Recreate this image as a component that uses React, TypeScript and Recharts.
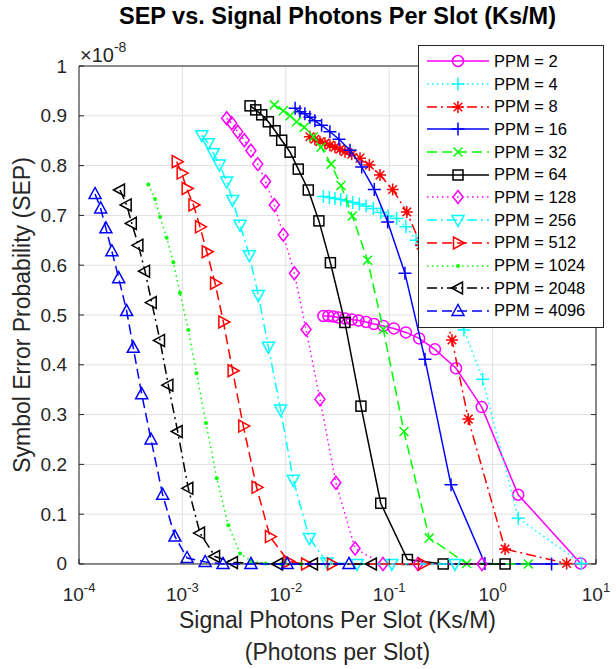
import React from 'react'
import { ScatterChart, Scatter, XAxis, YAxis, CartesianGrid, Legend } from 'recharts'

// SEP values are in units of 1e-8 (axis multiplier shown top-left)
const PPM2_X = [2.31e-2, 2.58e-2, 2.88e-2, 3.22e-2, 3.74e-2, 4.34e-2, 5.04e-2, 5.97e-2, 7.13e-2, 8.77e-2, 0.111, 0.145, 0.195, 0.277, 0.443, 0.785, 1.77, 7.11]
const PPM2_SEP = [0.498, 0.498, 0.497, 0.495, 0.493, 0.491, 0.489, 0.486, 0.482, 0.478, 0.473, 0.465, 0.453, 0.431, 0.393, 0.315, 0.139, 0.001]

const PPM4_X = [2.31e-2, 2.64e-2, 2.99e-2, 3.4e-2, 3.88e-2, 4.44e-2, 5.14e-2, 5.97e-2, 7.02e-2, 8.28e-2, 9.79e-2, 0.118, 0.145, 0.182, 0.259, 0.371, 0.528, 0.802, 1.77, 7.26]
const PPM4_SEP = [0.738, 0.736, 0.734, 0.732, 0.729, 0.726, 0.723, 0.719, 0.714, 0.706, 0.699, 0.694, 0.677, 0.65, 0.6, 0.53, 0.47, 0.371, 0.092, 0.001]

const PPM8_X = [1.71e-2, 1.91e-2, 2.14e-2, 2.39e-2, 2.67e-2, 2.99e-2, 3.34e-2, 3.74e-2, 4.34e-2, 5.22e-2, 6.43e-2, 8.15e-2, 0.108, 0.148, 0.203, 0.29, 0.405, 0.582, 1.32, 5.2]
const PPM8_SEP = [0.858, 0.853, 0.848, 0.845, 0.841, 0.837, 0.833, 0.828, 0.823, 0.815, 0.801, 0.781, 0.752, 0.707, 0.64, 0.56, 0.45, 0.291, 0.03, 0.001]

const PPM16_X = [1.23e-2, 1.37e-2, 1.53e-2, 1.71e-2, 1.91e-2, 2.22e-2, 2.67e-2, 3.27e-2, 4.18e-2, 5.42e-2, 7.18e-2, 9.66e-2, 0.142, 0.222, 0.396, 0.843, 3.72]
const PPM16_SEP = [0.915, 0.908, 0.904, 0.897, 0.89, 0.881, 0.868, 0.853, 0.831, 0.797, 0.752, 0.687, 0.584, 0.411, 0.159, 0.001, 0]

const PPM32_X = [7.74e-3, 9.46e-3, 1.1e-2, 1.27e-2, 1.51e-2, 1.85e-2, 2.19e-2, 2.74e-2, 3.42e-2, 4.4e-2, 6.18e-2, 8.77e-2, 0.139, 0.244, 0.561, 2.22]
const PPM32_SEP = [0.922, 0.91, 0.9, 0.888, 0.877, 0.858, 0.837, 0.803, 0.76, 0.699, 0.61, 0.471, 0.266, 0.052, 0.001, 0]

const PPM64_X = [4.51e-3, 5.12e-3, 5.85e-3, 6.78e-3, 7.87e-3, 9.12e-3, 1.1e-2, 1.32e-2, 1.65e-2, 2.09e-2, 2.7e-2, 3.73e-2, 5.33e-2, 8.28e-2, 0.15, 0.333, 1.32]
const PPM64_SEP = [0.92, 0.912, 0.902, 0.888, 0.87, 0.851, 0.827, 0.793, 0.751, 0.689, 0.605, 0.485, 0.317, 0.122, 0.009, 0, 0]

const PPM128_X = [2.68e-3, 3.0e-3, 3.43e-3, 3.97e-3, 4.6e-3, 5.35e-3, 6.38e-3, 7.74e-3, 9.46e-3, 1.21e-2, 1.57e-2, 2.14e-2, 3.05e-2, 4.68e-2, 8.71e-2, 0.19, 0.789]
const PPM128_SEP = [0.895, 0.885, 0.868, 0.851, 0.83, 0.803, 0.768, 0.721, 0.661, 0.584, 0.471, 0.331, 0.163, 0.031, 0, 0, 0]

const PPM256_X = [1.54e-3, 1.78e-3, 1.99e-3, 2.28e-3, 2.68e-3, 3.06e-3, 3.61e-3, 4.44e-3, 5.42e-3, 6.78e-3, 8.91e-3, 1.18e-2, 1.69e-2, 2.5e-2, 4.89e-2, 0.106, 0.433]
const PPM256_SEP = [0.861, 0.845, 0.825, 0.802, 0.768, 0.731, 0.681, 0.62, 0.54, 0.436, 0.31, 0.169, 0.052, 0.003, 0, 0, 0]

const PPM512_X = [8.81e-4, 9.84e-4, 1.1e-3, 1.28e-3, 1.48e-3, 1.72e-3, 2.07e-3, 2.49e-3, 3.06e-3, 3.88e-3, 5.22e-3, 7.03e-3, 1.06e-2, 1.57e-2, 2.8e-2, 0.212]
const PPM512_SEP = [0.808, 0.785, 0.754, 0.721, 0.677, 0.627, 0.564, 0.486, 0.388, 0.277, 0.154, 0.055, 0.005, 0, 0, 0]

const PPM1024_X = [4.68e-4, 5.43e-4, 6.07e-4, 7.05e-4, 8.17e-4, 9.48e-4, 1.14e-3, 1.37e-3, 1.69e-3, 2.15e-3, 2.78e-3, 3.61e-3, 4.68e-3, 6.4e-3, 9.0e-3, 1.4e-2]
const PPM1024_SEP = [0.762, 0.733, 0.697, 0.655, 0.606, 0.544, 0.47, 0.383, 0.283, 0.172, 0.078, 0.021, 0.005, 0.001, 0, 0]

const PPM2048_X = [2.49e-4, 2.89e-4, 3.24e-4, 3.75e-4, 4.35e-4, 5.05e-4, 6.07e-4, 7.31e-4, 9.0e-4, 1.14e-3, 1.48e-3, 2.07e-3, 3.08e-3, 8.4e-3, 1.83e-2, 6.8e-2]
const PPM2048_SEP = [0.751, 0.721, 0.684, 0.64, 0.588, 0.525, 0.449, 0.359, 0.266, 0.152, 0.062, 0.015, 0.003, 0, 0, 0]

const PPM4096_X = [1.43e-4, 1.62e-4, 1.82e-4, 2.08e-4, 2.42e-4, 2.89e-4, 3.35e-4, 4.04e-4, 4.97e-4, 6.44e-4, 8.47e-4, 1.11e-3, 1.66e-3, 2.47e-3, 4.6e-3, 1.03e-2, 4.08e-2]
const PPM4096_SEP = [0.743, 0.714, 0.674, 0.628, 0.574, 0.508, 0.434, 0.341, 0.25, 0.139, 0.055, 0.012, 0.004, 0, 0, 0, 0]

const X_TICKS = [1e-4, 1e-3, 1e-2, 1e-1, 1, 10]
const X_TICK_EXP = ['-4', '-3', '-2', '-1', '0', '1']
const X_MINOR = X_TICKS.slice(0, -1).flatMap((d) => [2, 3, 4, 5, 6, 7, 8, 9].map((k) => k * d))
const Y_TICKS = [0, 0.1, 0.2, 0.3, 0.4, 0.5, 0.6, 0.7, 0.8, 0.9, 1]
const Y_TICK_LABELS = ['0', '0.1', '0.2', '0.3', '0.4', '0.5', '0.6', '0.7', '0.8', '0.9', '1']

const FONT = '"Liberation Sans", Arial, Helvetica, sans-serif'
const AX = '#262626'
const THIN = 0.01 // axes take no room; margins fix the plot box

const SOLID = undefined
const DOTTED = '1.5 3.5'
const DASHED = '10 5'
const DASHDOT = '10 4 2 4'

const SERIES = [
  { name: 'PPM = 2', x: PPM2_X, y: PPM2_SEP, color: '#ff00ff', dash: SOLID, marker: 'circle' },
  { name: 'PPM = 4', x: PPM4_X, y: PPM4_SEP, color: '#00ffff', dash: DOTTED, marker: 'plus' },
  { name: 'PPM = 8', x: PPM8_X, y: PPM8_SEP, color: '#ff0000', dash: DASHDOT, marker: 'star' },
  { name: 'PPM = 16', x: PPM16_X, y: PPM16_SEP, color: '#0000ff', dash: SOLID, marker: 'plus' },
  { name: 'PPM = 32', x: PPM32_X, y: PPM32_SEP, color: '#00ff00', dash: DASHED, marker: 'cross' },
  { name: 'PPM = 64', x: PPM64_X, y: PPM64_SEP, color: '#000000', dash: SOLID, marker: 'square' },
  { name: 'PPM = 128', x: PPM128_X, y: PPM128_SEP, color: '#ff00ff', dash: DOTTED, marker: 'diamond' },
  { name: 'PPM = 256', x: PPM256_X, y: PPM256_SEP, color: '#00ffff', dash: DASHDOT, marker: 'down' },
  { name: 'PPM = 512', x: PPM512_X, y: PPM512_SEP, color: '#ff0000', dash: DASHED, marker: 'right' },
  { name: 'PPM = 1024', x: PPM1024_X, y: PPM1024_SEP, color: '#00ff00', dash: DOTTED, marker: 'dot' },
  { name: 'PPM = 2048', x: PPM2048_X, y: PPM2048_SEP, color: '#000000', dash: DASHDOT, marker: 'left' },
  { name: 'PPM = 4096', x: PPM4096_X, y: PPM4096_SEP, color: '#0000ff', dash: DASHED, marker: 'up' },
]

function Marker({ kind, cx, cy, color }: { kind: string; cx: number; cy: number; color: string }) {
  const p = { fill: 'none', stroke: color, strokeWidth: 1.5 }
  const poly = (pts: number[][]) => pts.map(([dx, dy]) => `${cx + dx},${cy + dy}`).join(' ')
  switch (kind) {
    case 'circle':
      return <circle cx={cx} cy={cy} r={5.5} {...p} />
    case 'plus':
      return <path d={`M${cx - 6.5},${cy}H${cx + 6.5}M${cx},${cy - 6.5}V${cy + 6.5}`} {...p} />
    case 'star':
      return <path d={`M${cx - 6},${cy}H${cx + 6}M${cx},${cy - 6}V${cy + 6}M${cx - 4.3},${cy - 4.3}L${cx + 4.3},${cy + 4.3}M${cx - 4.3},${cy + 4.3}L${cx + 4.3},${cy - 4.3}`} {...p} />
    case 'cross':
      return <path d={`M${cx - 4.5},${cy - 4.5}L${cx + 4.5},${cy + 4.5}M${cx - 4.5},${cy + 4.5}L${cx + 4.5},${cy - 4.5}`} {...p} />
    case 'square':
      return <rect x={cx - 5} y={cy - 5} width={10} height={10} {...p} />
    case 'diamond':
      return <polygon points={poly([[0, -6.5], [5, 0], [0, 6.5], [-5, 0]])} {...p} />
    case 'up':
      return <polygon points={poly([[0, -6.5], [6, 4.5], [-6, 4.5]])} {...p} />
    case 'down':
      return <polygon points={poly([[0, 6.5], [6, -4.5], [-6, -4.5]])} {...p} />
    case 'right':
      return <polygon points={poly([[6.5, 0], [-4.5, -6], [-4.5, 6]])} {...p} />
    case 'left':
      return <polygon points={poly([[-6.5, 0], [4.5, -6], [4.5, 6]])} {...p} />
    default:
      return <circle cx={cx} cy={cy} r={2} fill={color} stroke="none" />
  }
}

const BottomTick = (props: any) => {
  const { x, y, index } = props
  return (
    <g>
      <line x1={x} y1={y} x2={x} y2={y - 5} stroke={AX} />
      <text x={x} y={y + 37} textAnchor="middle" fontSize={19} fill={AX} fontFamily={FONT}>
        10<tspan dy={-9} fontSize={13}>{X_TICK_EXP[index]}</tspan>
      </text>
    </g>
  )
}
const TopTick = ({ x, y }: any) => <line x1={x} y1={y} x2={x} y2={y + 5} stroke={AX} />
const MinorBottomTick = ({ x, y }: any) => <line x1={x} y1={y} x2={x} y2={y - 3} stroke={AX} />
const MinorTopTick = ({ x, y }: any) => <line x1={x} y1={y} x2={x} y2={y + 3} stroke={AX} />
const LeftTick = ({ x, y, index }: any) => (
  <g>
    <line x1={x} y1={y} x2={x + 5} y2={y} stroke={AX} />
    <text x={x - 12} y={y + 6.5} textAnchor="end" fontSize={19} fill={AX} fontFamily={FONT}>
      {Y_TICK_LABELS[index]}
    </text>
  </g>
)
const RightTick = ({ x, y }: any) => <line x1={x} y1={y} x2={x - 5} y2={y} stroke={AX} />

const renderLegend = () => (
  <div style={{ border: `1px solid ${AX}`, background: '#fff', padding: '4px 0 5px 0', fontFamily: FONT }}>
    {SERIES.map((s) => (
      <div key={s.name} style={{ display: 'flex', alignItems: 'center', height: 22.7 }}>
        <svg width={75} height={22} style={{ flexShrink: 0 }}>
          <line x1={8} y1={11} x2={70} y2={11} stroke={s.color} strokeWidth={1.5} strokeDasharray={s.dash} />
          <Marker kind={s.marker} cx={39} cy={11} color={s.color} />
        </svg>
        <span style={{ fontSize: 16.5, color: '#000', whiteSpace: 'nowrap' }}>{s.name}</span>
      </div>
    ))}
  </div>
)

export default function App() {
  return (
    <div style={{ position: 'absolute', left: 0, top: 0, width: 616, height: 669, background: '#fff' }}>
      <ScatterChart width={616} height={669} margin={{ top: 66, right: 20, bottom: 105, left: 79 }}>
        <XAxis xAxisId="main" dataKey="x" type="number" scale="log" domain={[1e-4, 10]} ticks={X_TICKS}
          height={THIN} tickSize={0} tickMargin={0} interval={0} tick={BottomTick} tickLine={false}
          axisLine={{ stroke: AX }} />
        <XAxis xAxisId="top" orientation="top" type="number" scale="log" domain={[1e-4, 10]} allowDataOverflow
          ticks={X_TICKS} height={THIN} tickSize={0} tickMargin={0} interval={0} tick={TopTick} tickLine={false}
          axisLine={{ stroke: AX }} />
        <XAxis xAxisId="minor" type="number" scale="log" domain={[1e-4, 10]} allowDataOverflow
          ticks={X_MINOR} height={THIN} tickSize={0} tickMargin={0} interval={0} tick={MinorBottomTick}
          tickLine={false} axisLine={false} />
        <XAxis xAxisId="minorTop" orientation="top" type="number" scale="log" domain={[1e-4, 10]} allowDataOverflow
          ticks={X_MINOR} height={THIN} tickSize={0} tickMargin={0} interval={0} tick={MinorTopTick}
          tickLine={false} axisLine={false} />
        <YAxis yAxisId="main" dataKey="y" type="number" domain={[0, 1]} ticks={Y_TICKS} width={THIN}
          tickSize={0} tickMargin={0} interval={0} tick={LeftTick} tickLine={false} axisLine={{ stroke: AX }} />
        <YAxis yAxisId="right" orientation="right" type="number" domain={[0, 1]} allowDataOverflow ticks={Y_TICKS}
          width={THIN} tickSize={0} tickMargin={0} interval={0} tick={RightTick} tickLine={false}
          axisLine={{ stroke: AX }} />
        <CartesianGrid xAxisId="minor" yAxisId="main" horizontal={false} stroke="#bdbdbd" strokeDasharray="1 4.5" />
        <CartesianGrid xAxisId="main" yAxisId="main" stroke="#e0e0e0" />
        {SERIES.map((s) => (
          <Scatter
            key={s.name}
            name={s.name}
            xAxisId="main"
            yAxisId="main"
            data={s.x.map((x, i) => ({ x, y: s.y[i] }))}
            fill={s.color}
            line={{ stroke: s.color, strokeWidth: 1.5, strokeDasharray: s.dash }}
            shape={(p: any) => <Marker kind={s.marker} cx={p.cx} cy={p.cy} color={s.color} />}
            isAnimationActive={false}
          />
        ))}
        <Legend layout="horizontal" verticalAlign="middle" align="center" content={renderLegend}
          wrapperStyle={{ position: 'absolute', left: 418, top: 45, width: 186 }} />
      </ScatterChart>
      <svg width={616} height={669} style={{ position: 'absolute', left: 0, top: 0, pointerEvents: 'none' }}>
        <text x={337.5} y={24} textAnchor="middle" fontSize={23.5} fontWeight="bold" fill="#000" fontFamily={FONT}>
          SEP vs. Signal Photons Per Slot (Ks/M)
        </text>
        <text x={80} y={62} fontSize={20} fill={AX} fontFamily={FONT}>
          ×10<tspan dy={-10} fontSize={14}>-8</tspan>
        </text>
        <text x={337.5} y={628} textAnchor="middle" fontSize={23} fill={AX} fontFamily={FONT}>
          Signal Photons Per Slot (Ks/M)
        </text>
        <text x={337.5} y={660} textAnchor="middle" fontSize={23} fill={AX} fontFamily={FONT}>
          (Photons per Slot)
        </text>
        <text transform="translate(30,315) rotate(-90)" textAnchor="middle" fontSize={23} fill={AX} fontFamily={FONT}>
          Symbol Error Probability (SEP)
        </text>
      </svg>
    </div>
  )
}
